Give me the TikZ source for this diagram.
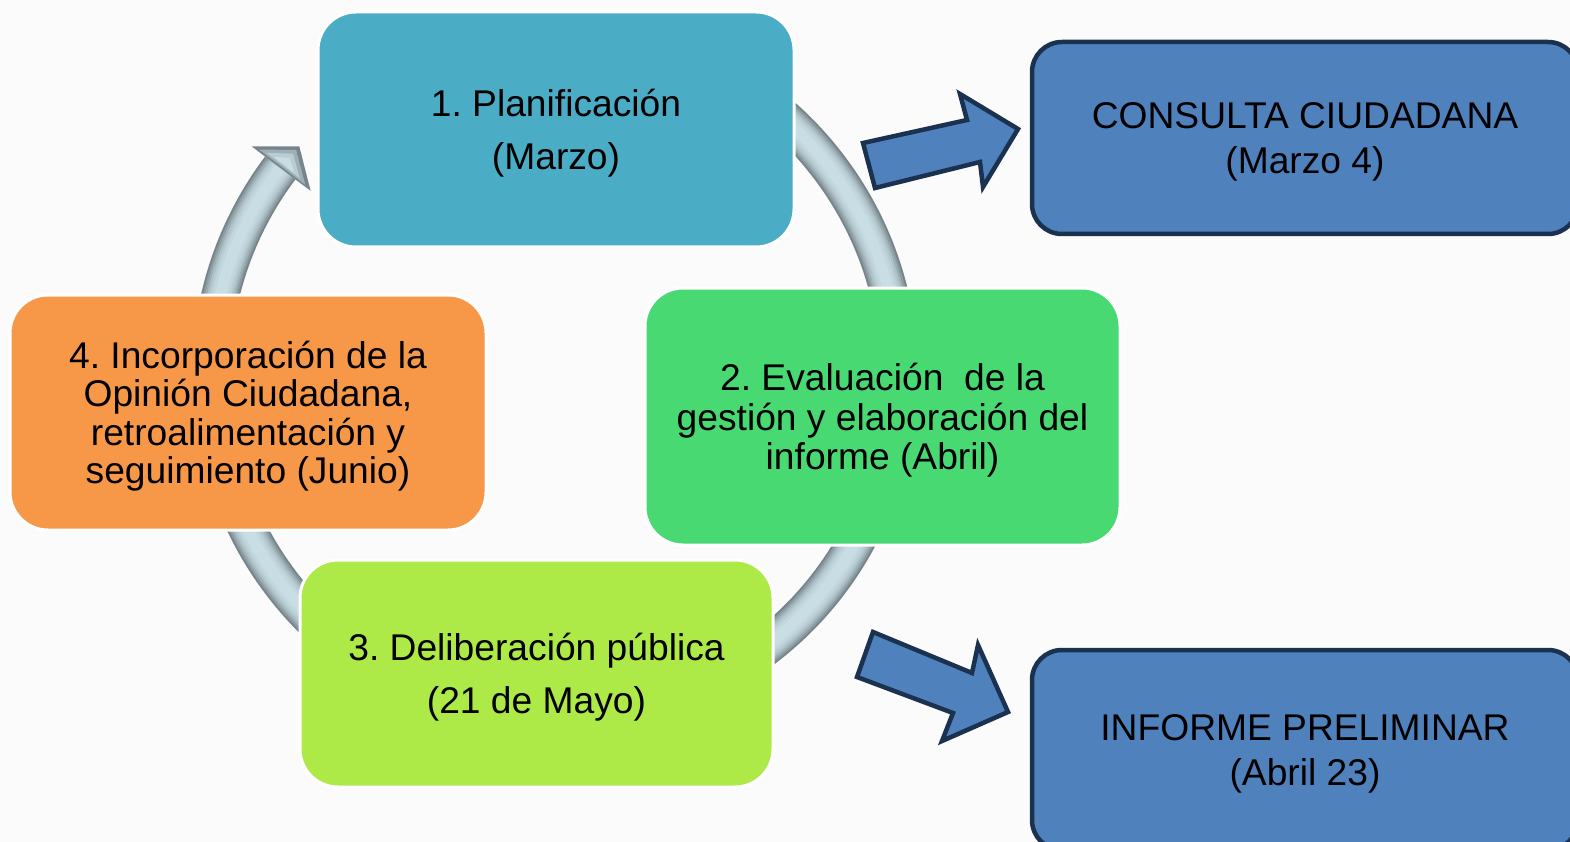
\documentclass[tikz,border=0pt]{standalone}
\usepackage{fontspec}
\setmainfont{Liberation Sans}
\frenchspacing
\definecolor{bgc}{HTML}{FBFBFB}
\definecolor{tealc}{HTML}{4BACC6}
\definecolor{greenc}{HTML}{48D973}
\definecolor{limec}{HTML}{ADEA47}
\definecolor{orangec}{HTML}{F79848}
\definecolor{bluec}{HTML}{4F81BD}
\definecolor{navyc}{HTML}{1B3150}
\definecolor{ringA}{HTML}{75858B}
\definecolor{ringB}{HTML}{8A9BA1}
\definecolor{ringC}{HTML}{9DAFB5}
\definecolor{ringD}{HTML}{ADC0C6}
\definecolor{ringE}{HTML}{B8CCD3}
\definecolor{ringF}{HTML}{C1D6DD}
\definecolor{ringG}{HTML}{C8DDE4}
\begin{document}
\begin{tikzpicture}[x=1pt,y=-1pt,
  stage/.style={rectangle, rounded corners=38pt, draw=white, line width=3pt,
    inner sep=0pt, align=center, text=black, text depth=0pt,
    minimum width=476pt, minimum height=235pt},
  twoline/.style={font=\fontsize{37.2}{53}\selectfont\frenchspacing},
  multiline/.style={font=\fontsize{37.2}{39.5}\selectfont\frenchspacing},
  milestone/.style={rectangle, rounded corners=30pt, draw=navyc, line width=4.5pt,
    fill=bluec, inner sep=0pt, align=center, text=black, text depth=-2pt,
    minimum width=546pt, font=\fontsize{37.2}{45}\selectfont\frenchspacing},
  blockarrow/.style={fill=bluec, draw=navyc, line width=4.5pt, line join=miter}
]
\useasboundingbox (0,0) rectangle (1570,842);
\fill[bgc] (0,0) rectangle (1570,842);

% cycle ring
\coordinate (C) at (555,375);
\begin{scope}[shift={(C)}]
  \foreach \w/\c in {38/ringA,34/ringB,30/ringC,26/ringD,22/ringE,17/ringF,11/ringG}{
    \draw[line width=\w pt, color=\c] (235:344) arc[start angle=235, end angle=577, radius=344];
  }
  \fill[ringA] (217:380) -- (221.8:343) -- (217:306) -- cycle;
  \fill[ringC] (217.3:372) -- (221.0:343) -- (217.3:314) -- cycle;
  \fill[ringE] (217.6:364) -- (220.2:343) -- (217.6:322) -- cycle;
  \fill[ringG] (217.8:356) -- (219.3:343) -- (217.8:330) -- cycle;
\end{scope}

% stages
\node[stage, twoline, fill=tealc] (s1) at (556,129.5) {1. Planificación\\(Marzo)};
\node[stage, multiline, fill=greenc, minimum width=475pt, minimum height=257pt] (s2) at (882.5,416.5)
  {2. Evaluación~ de la\\gestión y elaboración del\\informe (Abril)};
\node[stage, twoline, fill=limec, minimum width=473pt, minimum height=227pt] (s3) at (536.5,673.5)
  {3. Deliberación pública\\(21 de Mayo)};
\node[stage, font=\fontsize{37.2}{38.5}\selectfont\frenchspacing, fill=orangec] (s4) at (248,412.5)
  {4. Incorporación de la\\Opinión Ciudadana,\\retroalimentación y\\seguimiento (Junio)};

% block arrows
\draw[blockarrow] (863,143) -- (967,120) -- (960,94) -- (1018,129) -- (983,187) -- (980,162) -- (875,188) -- cycle;
\draw[blockarrow] (873,632) -- (972,673) -- (978,645) -- (1008,712) -- (942,741) -- (953,713) -- (857,677) -- cycle;

% milestones
\node[milestone, minimum height=192pt] (m1) at (1305,138) {CONSULTA CIUDADANA\\(Marzo 4)};
\node[milestone, minimum height=200pt] (m2) at (1305,750) {INFORME PRELIMINAR\\(Abril 23)};
\end{tikzpicture}
\end{document}
